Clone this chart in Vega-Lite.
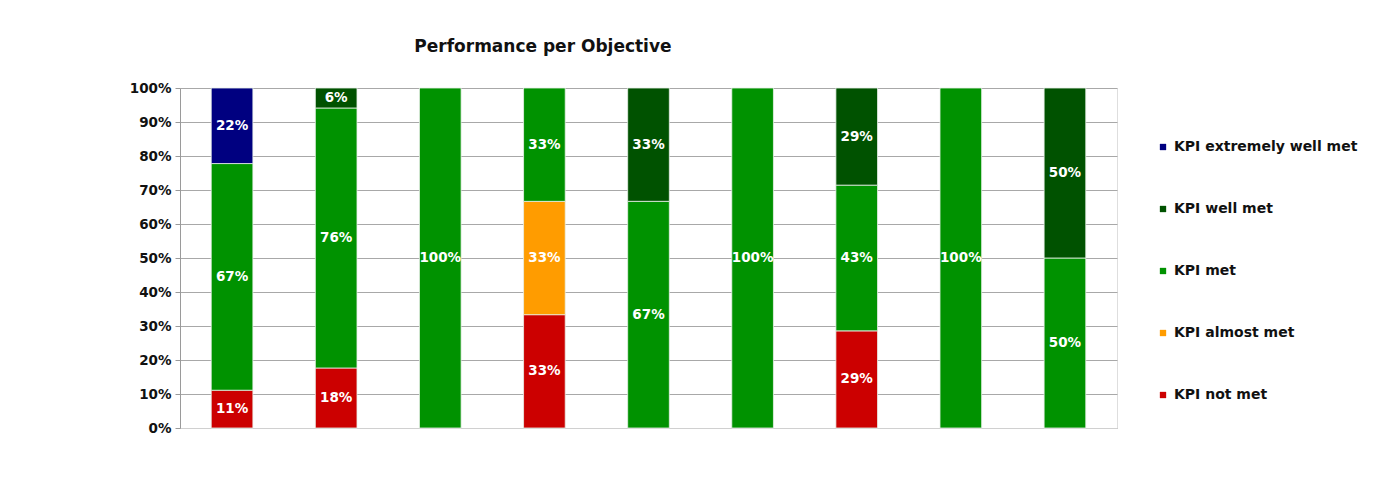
{
  "$schema": "https://vega.github.io/schema/vega-lite/v6.json",
  "width": 937,
  "height": 340,
  "autosize": {"type": "none"},
  "padding": {"left": 180, "top": 88, "right": 280, "bottom": 56},
  "background": "white",
  "title": {
    "text": "Performance per Objective",
    "anchor": "start",
    "dx": 285,
    "offset": 25,
    "font": "DejaVu Sans",
    "fontSize": 17,
    "fontWeight": "bold",
    "color": "#111111"
  },
  "data": {
    "values": [
      {"objective": "Objective 1", "status": "KPI not met", "ord": 1, "value": 0.1111},
      {"objective": "Objective 1", "status": "KPI met", "ord": 3, "value": 0.6667},
      {"objective": "Objective 1", "status": "KPI extremely well met", "ord": 5, "value": 0.2222},
      {"objective": "Objective 2", "status": "KPI not met", "ord": 1, "value": 0.1765},
      {"objective": "Objective 2", "status": "KPI met", "ord": 3, "value": 0.7647},
      {"objective": "Objective 2", "status": "KPI well met", "ord": 4, "value": 0.0588},
      {"objective": "Objective 3", "status": "KPI met", "ord": 3, "value": 1.0},
      {"objective": "Objective 4", "status": "KPI not met", "ord": 1, "value": 0.3333},
      {"objective": "Objective 4", "status": "KPI almost met", "ord": 2, "value": 0.3333},
      {"objective": "Objective 4", "status": "KPI met", "ord": 3, "value": 0.3334},
      {"objective": "Objective 5", "status": "KPI met", "ord": 3, "value": 0.6667},
      {"objective": "Objective 5", "status": "KPI well met", "ord": 4, "value": 0.3333},
      {"objective": "Objective 6", "status": "KPI met", "ord": 3, "value": 1.0},
      {"objective": "Objective 7", "status": "KPI not met", "ord": 1, "value": 0.2857},
      {"objective": "Objective 7", "status": "KPI met", "ord": 3, "value": 0.4286},
      {"objective": "Objective 7", "status": "KPI well met", "ord": 4, "value": 0.2857},
      {"objective": "Objective 8", "status": "KPI met", "ord": 3, "value": 1.0},
      {"objective": "Objective 9", "status": "KPI met", "ord": 3, "value": 0.5},
      {"objective": "Objective 9", "status": "KPI well met", "ord": 4, "value": 0.5}
    ]
  },
  "transform": [
    {"stack": "value", "groupby": ["objective"], "sort": [{"field": "ord", "order": "ascending"}], "as": ["v0", "v1"]},
    {"calculate": "(datum.v0 + datum.v1) / 2", "as": "mid"}
  ],
  "encoding": {
    "x": {
      "field": "objective",
      "type": "nominal",
      "sort": null,
      "scale": {"paddingInner": 0.6, "paddingOuter": 0.3},
      "axis": {"title": null, "labels": false, "ticks": false, "domainColor": "#d0d0d0", "grid": false}
    }
  },
  "layer": [
    {
      "mark": {"type": "bar", "stroke": "#e8f0e8", "strokeWidth": 0.8},
      "encoding": {
        "y": {
          "field": "v0",
          "type": "quantitative",
          "scale": {"domain": [0, 1], "nice": false},
          "axis": {
            "title": null,
            "format": ".0%",
            "values": [0, 0.1, 0.2, 0.3, 0.4, 0.5, 0.6, 0.7, 0.8, 0.9, 1.0],
            "labelOverlap": false,
            "labelFont": "DejaVu Sans",
            "labelFontSize": 13.5,
            "labelFontWeight": "bold",
            "labelColor": "#111111",
            "labelPadding": 4,
            "tickSize": 5,
            "tickColor": "#9a9a9a",
            "domainColor": "#9a9a9a",
            "grid": true,
            "gridColor": "#a8a8a8",
            "gridWidth": 1
          }
        },
        "y2": {"field": "v1"},
        "color": {
          "field": "status",
          "type": "nominal",
          "scale": {
            "domain": ["KPI extremely well met", "KPI well met", "KPI met", "KPI almost met", "KPI not met"],
            "range": ["#000080", "#005200", "#009200", "#ff9c00", "#cc0000"]
          },
          "legend": {
            "title": null,
            "orient": "none",
            "legendX": 976,
            "legendY": 52,
            "padding": 0,
            "symbolType": "square",
            "symbolSize": 40,
            "symbolStrokeWidth": 0,
            "labelFont": "DejaVu Sans",
            "labelFontSize": 14,
            "labelFontWeight": "bold",
            "labelColor": "#111111",
            "labelOffset": 4,
            "labelLimit": 0,
            "rowPadding": 48
          }
        }
      }
    },
    {
      "mark": {"type": "text", "color": "white", "font": "DejaVu Sans", "fontSize": 13.5, "fontWeight": "bold", "baseline": "middle", "align": "center"},
      "encoding": {
        "y": {
          "field": "mid",
          "type": "quantitative",
          "scale": {"domain": [0, 1], "nice": false},
          "axis": {
            "title": null,
            "format": ".0%",
            "values": [0, 0.1, 0.2, 0.3, 0.4, 0.5, 0.6, 0.7, 0.8, 0.9, 1.0],
            "labelOverlap": false,
            "labelFont": "DejaVu Sans",
            "labelFontSize": 13.5,
            "labelFontWeight": "bold",
            "labelColor": "#111111",
            "labelPadding": 4,
            "tickSize": 5,
            "tickColor": "#9a9a9a",
            "domainColor": "#9a9a9a",
            "grid": true,
            "gridColor": "#a8a8a8",
            "gridWidth": 1
          }
        },
        "text": {"field": "value", "type": "quantitative", "format": ".0%"}
      }
    }
  ],
  "config": {
    "view": {"stroke": "#dedede", "strokeWidth": 1}
  }
}
